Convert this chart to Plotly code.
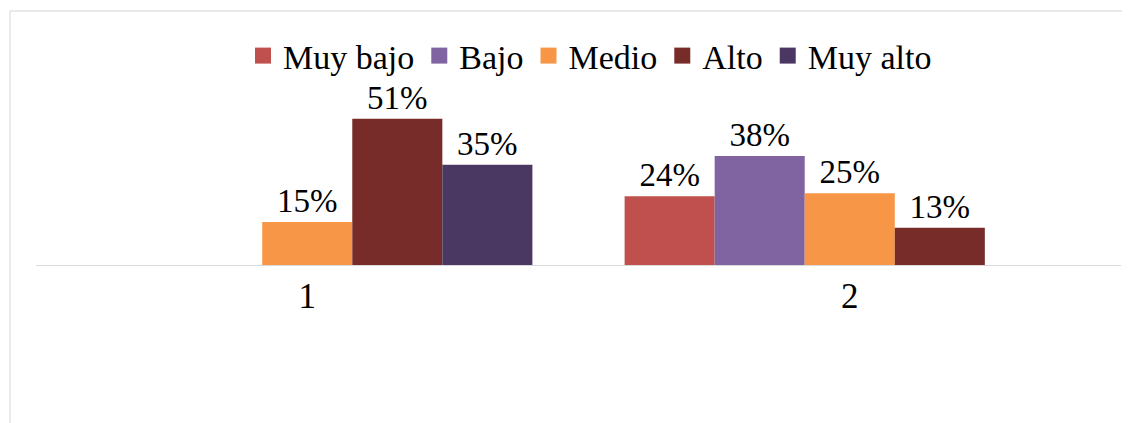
import plotly.graph_objects as go

categories = ["1", "2"]
series_names = ["Muy bajo", "Bajo", "Medio", "Alto", "Muy alto"]
muy_bajo = [None, 24]
bajo = [None, 38]
medio = [15, 25]
alto = [51, 13]
muy_alto = [35, None]
colors = ["#C0504D", "#8064A2", "#F79646", "#772C2A", "#4B3862"]

series_values = [muy_bajo, bajo, medio, alto, muy_alto]

# browser body margin of 8px shifts the figure; target pixel coords are page coords
OFF = 8
W, H = 1130, 423
ML, MR, MT, MB = 36 - OFF, 17, 93 - OFF, 166
PW, PH = W - ML - MR, H - MT - MB

FONT = "Liberation Serif"

fig = go.Figure()
for name, vals, col in zip(series_names, series_values, colors):
    fig.add_trace(go.Bar(
        x=categories, y=vals, name=name, showlegend=False,
        marker=dict(color=col, line=dict(width=0)),
        texttemplate="%{y}%", textposition="outside",
        textfont=dict(family=FONT, size=33, color="#000000"),
        cliponaxis=False,
    ))
# legend entries with square swatches
for name, col in zip(series_names, colors):
    fig.add_trace(go.Scatter(
        x=[None], y=[None], mode="markers", name=name,
        marker=dict(symbol="square", size=18, color=col),
    ))

def px_x(x):
    return (x - OFF - ML) / PW

def px_y(y):
    return 1 - (y - OFF - MT) / PH

fig.update_layout(
    width=W, height=H,
    margin=dict(l=ML, r=MR, t=MT, b=MB),
    paper_bgcolor="white", plot_bgcolor="white",
    barmode="group", bargap=0.17, bargroupgap=0,
    font=dict(family=FONT, size=32, color="#000000"),
    legend=dict(orientation="h", x=px_x(590), xanchor="center",
                y=px_y(56), yanchor="middle",
                font=dict(family=FONT, size=34, color="#000000"),
                bgcolor="rgba(0,0,0,0)", itemsizing="trace"),
    xaxis=dict(type="category", showline=True, linecolor="#D9D9D9", linewidth=1,
               showgrid=False, ticks="", ticklabelstandoff=0,
               tickfont=dict(family=FONT, size=35, color="#000000")),
    yaxis=dict(range=[0, 60], showticklabels=False, showgrid=False,
               zeroline=False, showline=False),
    shapes=[
        dict(type="line", xref="paper", yref="paper",
             x0=px_x(10), x1=px_x(10), y0=px_y(11), y1=px_y(H + OFF),
             line=dict(color="#E3E3E3", width=1.5)),
        dict(type="line", xref="paper", yref="paper",
             x0=px_x(10), x1=px_x(W + OFF), y0=px_y(11), y1=px_y(11),
             line=dict(color="#E3E3E3", width=1.5)),
    ],
)

fig.write_html("out.html")
